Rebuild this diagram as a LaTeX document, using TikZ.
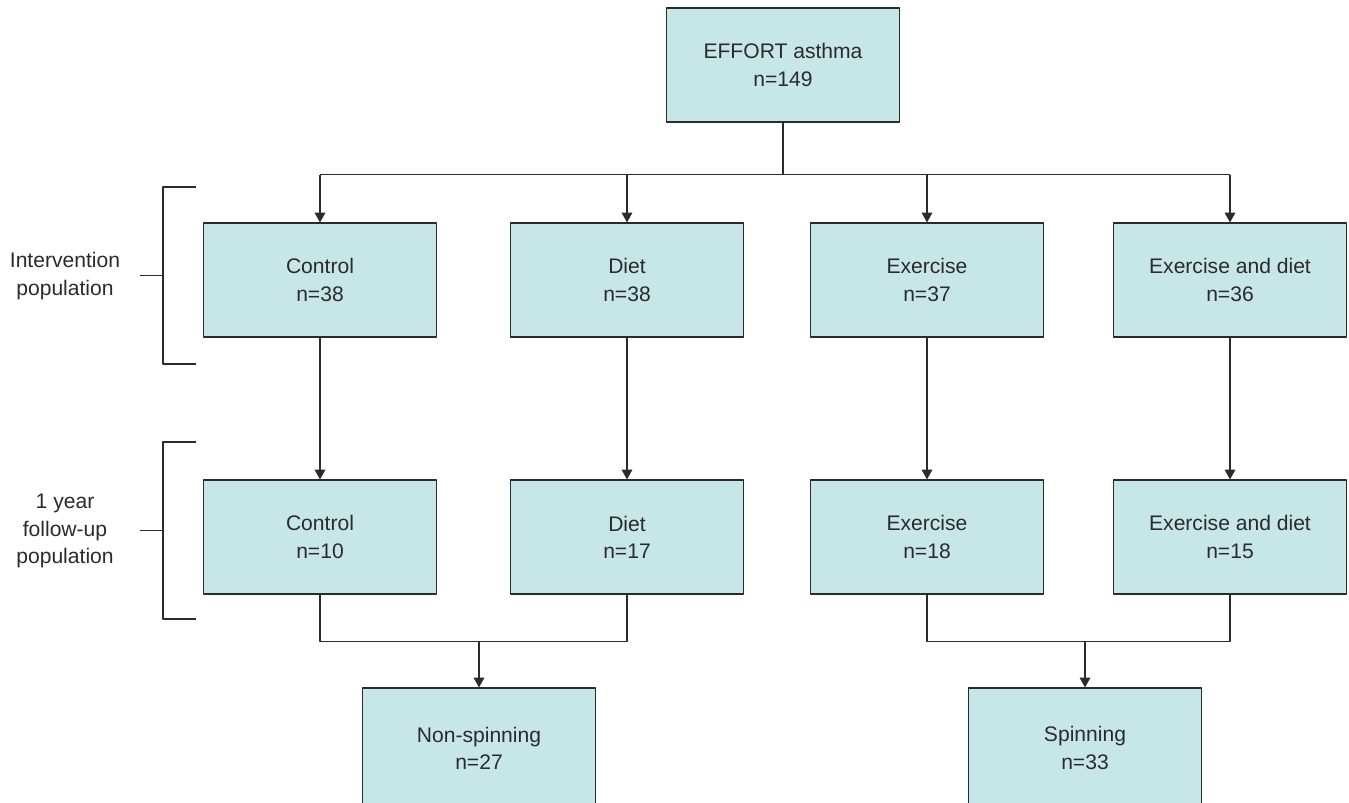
\documentclass[tikz,border=0pt]{standalone}
\usepackage{fontspec}
\setmainfont{Liberation Sans}
\usetikzlibrary{arrows.meta}
\definecolor{boxfill}{HTML}{C7E6E8}
\definecolor{ink}{HTML}{2B2B2B}
\begin{document}
\begin{tikzpicture}[x=0.02cm,y=-0.02cm,>={Triangle[length=5.5pt,width=6pt]},line join=round,color=ink,line width=0.7pt,font=\fontsize{12}{15.5}\selectfont]
	\tikzset{box/.style={draw=ink,fill=boxfill,minimum width=4.66cm,minimum height=2.28cm,align=center,inner sep=0pt},
		lbl/.style={align=center,inner sep=0pt}}
	\useasboundingbox (0,0) rectangle (1349,802);
	\node[box] (top) at (783,65) {EFFORT asthma\\n=149};
	\foreach \name/\x/\txt/\ma/\mb in {ctrl/320/Control/38/10,diet/627/Diet/38/17,ex/927/Exercise/37/18,exdiet/1230/Exercise and diet/36/15}{
		\node[box] (\name1) at (\x,280) {\txt\\n=\ma};
		\node[box] (\name2) at (\x,537) {\txt\\n=\mb};
		\draw[->] (\name1) -- (\name2);
	}
	\node[box,minimum height=2.4cm] (nospin) at (479,748) {Non-spinning\\n=27};
	\node[box,minimum height=2.4cm] (spin) at (1085,748) {Spinning\\n=33};
	% split from the top box
	\draw (top.south) -- ++(0,52) coordinate (split);
	\draw (ctrl1.north|-split) -- (exdiet1.north|-split);
	\foreach \name in {ctrl,diet,ex,exdiet}{
		\draw[->] (\name1.north|-split) -- (\name1.north);
	}
	% merge into the two bottom boxes
	\path (ctrl2.south)++(0,47) coordinate (merge);
	\draw (ctrl2.south) -- (ctrl2.south|-merge) -- (diet2.south|-merge) -- (diet2.south);
	\draw (ex2.south) -- (ex2.south|-merge) -- (exdiet2.south|-merge) -- (exdiet2.south);
	\draw[->] (nospin.north|-merge) -- (nospin.north);
	\draw[->] (spin.north|-merge) -- (spin.north);
	% brackets
	\foreach \ya/\yb in {187/364,442/619}{
		\draw (196,\ya) -| (163,\yb) -- (196,\yb);
		\draw (140,{(\ya+\yb)/2}) -- (163,{(\ya+\yb)/2});
	}
	\node[lbl] (intpop) at (65,276) {Intervention\\population};
	\node[lbl] (fupop) at (65,531) {1 year\\follow-up\\population};
\end{tikzpicture}
\end{document}
